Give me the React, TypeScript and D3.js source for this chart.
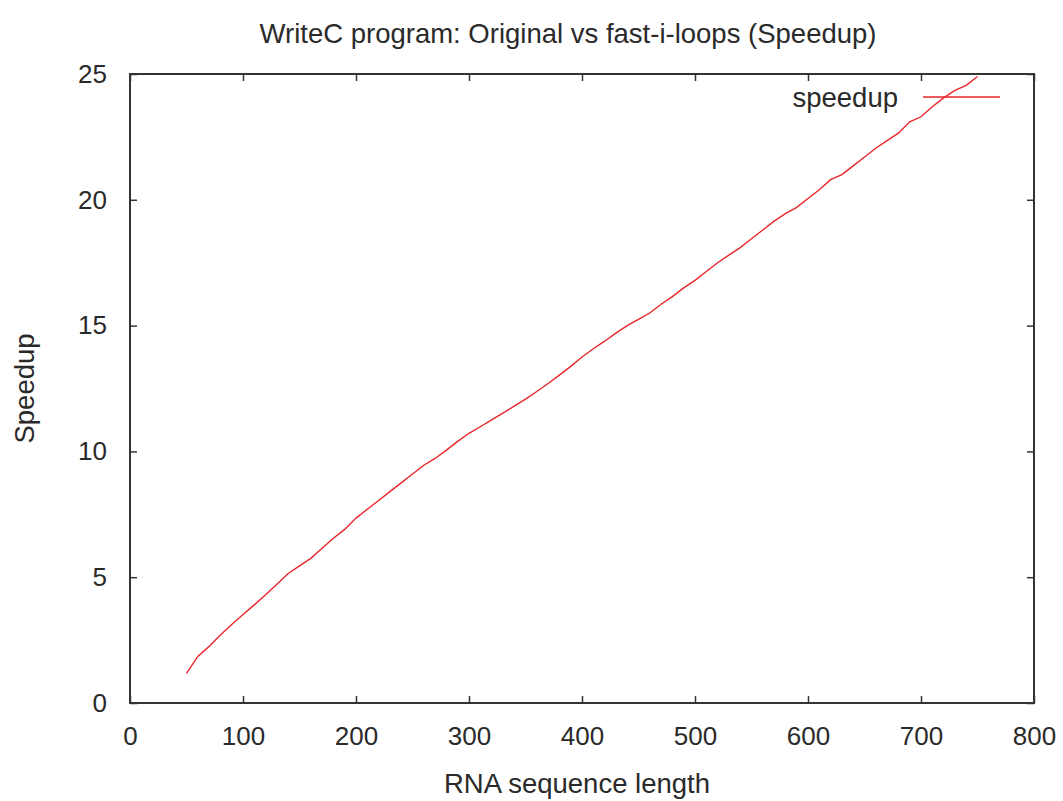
import React, { useEffect, useRef } from "react";
import * as d3 from "d3";

// sequence length (x) and measured speedup (y)
const lengths = [
  50, 60, 70, 80, 90, 100, 110, 120, 130, 140, 150, 160, 170, 180, 190, 200,
  210, 220, 230, 240, 250, 260, 270, 280, 290, 300, 310, 320, 330, 340, 350,
  360, 370, 380, 390, 400, 410, 420, 430, 440, 450, 460, 470, 480, 490, 500,
  510, 520, 530, 540, 550, 560, 570, 580, 590, 600, 610, 620, 630, 640, 650,
  660, 670, 680, 690, 700, 710, 720, 730, 740, 750,
];
const speedup = [
  1.18, 1.85, 2.25, 2.7, 3.12, 3.52, 3.9, 4.3, 4.72, 5.15, 5.45, 5.75, 6.15,
  6.55, 6.9, 7.35, 7.7, 8.05, 8.4, 8.75, 9.1, 9.45, 9.72, 10.05, 10.4, 10.72,
  10.98, 11.25, 11.52, 11.8, 12.08, 12.38, 12.7, 13.03, 13.38, 13.75, 14.08,
  14.38, 14.7, 15.0, 15.25, 15.5, 15.85, 16.15, 16.5, 16.8, 17.15, 17.5,
  17.8, 18.1, 18.45, 18.8, 19.15, 19.45, 19.7, 20.05, 20.4, 20.8, 21.0,
  21.35, 21.7, 22.05, 22.35, 22.65, 23.1, 23.3, 23.7, 24.05, 24.35, 24.55,
  24.9,
];
const xTicks = [0, 100, 200, 300, 400, 500, 600, 700, 800];
const yTicks = [0, 5, 10, 15, 20, 25];

const title = "WriteC program: Original vs fast-i-loops (Speedup)";
const xLabel = "RNA sequence length";
const yLabel = "Speedup";
const seriesName = "speedup";

const FONT = "'Liberation Sans', Arial, sans-serif";

const App = () => {
  const ref = useRef<HTMLDivElement>(null);

  useEffect(() => {
    d3.select(ref.current).selectAll("*").remove();

    const W = 1063;
    const H = 801;
    const margin = { top: 74, right: 29, bottom: 98, left: 130 };
    const width = W - margin.left - margin.right;
    const height = H - margin.top - margin.bottom;

    const root = d3
      .select(ref.current)
      .append("svg")
      .attr("width", W)
      .attr("height", H)
      .style("position", "absolute")
      .style("left", 0)
      .style("top", 0)
      .style("background", "#fff")
      .style("font-family", FONT);

    const svg = root
      .append("g")
      .attr("transform", `translate(${margin.left},${margin.top})`);

    const x = d3.scaleLinear().domain([0, 800]).range([0, width]);
    const y = d3.scaleLinear().domain([0, 25]).range([height, 0]);

    // inward ticks on all four sides, gnuplot style
    const styleAxis = (g) => {
      g.select(".domain").remove();
      g.selectAll("line").attr("stroke", "#333").attr("stroke-width", 1.5);
      g.selectAll("text")
        .attr("fill", "#2a2a2a")
        .style("font-size", "26px")
        .style("font-family", FONT);
    };

    svg
      .append("g")
      .attr("transform", `translate(0,${height})`)
      .call(d3.axisBottom(x).tickValues(xTicks).tickSize(-7).tickPadding(24))
      .call(styleAxis);
    svg
      .append("g")
      .call(d3.axisTop(x).tickValues(xTicks).tickSize(-7).tickFormat(() => ""))
      .call(styleAxis);
    svg
      .append("g")
      .call(d3.axisLeft(y).tickValues(yTicks).tickSize(-7).tickPadding(23))
      .call(styleAxis);
    svg
      .append("g")
      .attr("transform", `translate(${width},0)`)
      .call(d3.axisRight(y).tickValues(yTicks).tickSize(-7).tickFormat(() => ""))
      .call(styleAxis);

    // frame
    svg
      .append("rect")
      .attr("width", width)
      .attr("height", height)
      .attr("fill", "none")
      .attr("stroke", "#333")
      .attr("stroke-width", 2);

    // data line
    const pts = lengths.map((d, i) => [d, speedup[i]] as [number, number]);
    const line = d3
      .line<[number, number]>()
      .x((d) => x(d[0]))
      .y((d) => y(d[1]));
    svg
      .append("path")
      .datum(pts)
      .attr("d", line)
      .attr("fill", "none")
      .attr("stroke", "#e8262a")
      .attr("stroke-width", 1.4);

    // legend
    const legend = svg.append("g").attr("transform", `translate(${width - 111},23)`);
    legend
      .append("text")
      .attr("x", -25)
      .attr("dy", "0.35em")
      .attr("text-anchor", "end")
      .attr("fill", "#2a2a2a")
      .style("font-size", "27.5px")
      .text(seriesName);
    legend
      .append("line")
      .attr("x1", 0)
      .attr("x2", 77)
      .attr("stroke", "#e8262a")
      .attr("stroke-width", 1.4);

    // title and axis labels
    root
      .append("text")
      .attr("x", 568)
      .attr("y", 43)
      .attr("text-anchor", "middle")
      .attr("fill", "#2a2a2a")
      .style("font-size", "27.5px")
      .text(title);
    root
      .append("text")
      .attr("x", 577)
      .attr("y", 793)
      .attr("text-anchor", "middle")
      .attr("fill", "#2a2a2a")
      .style("font-size", "27.5px")
      .text(xLabel);
    root
      .append("text")
      .attr("transform", `translate(34,${margin.top + height / 2}) rotate(-90)`)
      .attr("text-anchor", "middle")
      .attr("fill", "#2a2a2a")
      .style("font-size", "27.5px")
      .text(yLabel);
  }, []);

  return <div ref={ref}></div>;
};

export default App;
